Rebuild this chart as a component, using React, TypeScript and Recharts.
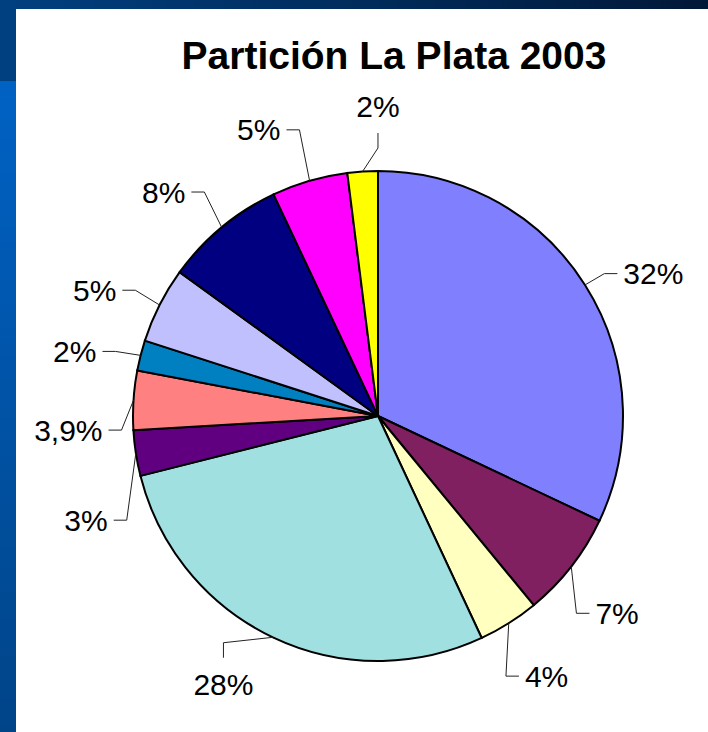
import React from 'react';
import { PieChart, Pie, Cell } from 'recharts';

const sliceLabels = ['32%', '7%', '4%', '28%', '3%', '3,9%', '2%', '5%', '8%', '5%', '2%'];
const sliceValues = [32, 7, 4, 28, 3, 3.9, 2, 5, 8, 5, 2];
const sliceColors = [
  '#8080FF', '#802060', '#FFFFC0', '#A0E0E0', '#600080', '#FF8080',
  '#0080C0', '#C0C0FF', '#000080', '#FF00FF', '#FFFF00',
];

// label layout: angular nudge (deg, clockwise) and which way the leader leaves the label
const labelNudge = [5, 1.6, -0.7, 4.5, -10.9, -6.3, -2.3, -3, -4.1, -6.4, 3.6];
const leaderDir = ['h', 'h', 'h', 'v', 'h', 'h', 'h', 'h', 'h', 'h', 'v'];

const data = sliceValues.map((value, i) => ({ name: sliceLabels[i], value }));

const RAD = Math.PI / 180;
const LABEL_FONT = 30;
const FONT = '"Liberation Sans", Arial, sans-serif';
const glyphW: Record<string, number> = { '%': 0.889, ',': 0.278 };
const textWidth = (s: string) =>
  s.split('').reduce((w, ch) => w + (glyphW[ch] ?? 0.556), 0) * LABEL_FONT;

function renderLabel(props: any) {
  const { cx, cy, midAngle, outerRadius, index } = props;
  const edgeX = cx + outerRadius * Math.cos(-midAngle * RAD);
  const edgeY = cy + outerRadius * Math.sin(-midAngle * RAD);
  const a = midAngle - labelNudge[index];
  const r = outerRadius + 65;
  const tx = cx + r * Math.cos(-a * RAD);
  const ty = cy + r * Math.sin(-a * RAD);
  const label = sliceLabels[index];
  const half = textWidth(label) / 2;

  let pts: string;
  if (leaderDir[index] === 'h') {
    const side = tx > edgeX ? -1 : 1;
    const x0 = tx + side * (half + 6);
    const x1 = x0 + side * 13;
    pts = `${x0},${ty} ${x1},${ty} ${edgeX},${edgeY}`;
  } else {
    const side = ty > edgeY ? -1 : 1;
    const y0 = ty + side * 27;
    const y1 = y0 + side * 15;
    pts = `${tx},${y0} ${tx},${y1} ${edgeX},${edgeY}`;
  }

  return (
    <g key={`lbl-${index}`}>
      <polyline points={pts} fill="none" stroke="#222" strokeWidth={1} />
      <text
        x={tx}
        y={ty}
        dy="0.35em"
        textAnchor="middle"
        fontSize={LABEL_FONT}
        fontFamily={FONT}
        fill="#000"
      >
        {label}
      </text>
    </g>
  );
}

export default function App() {
  return (
    <div style={{ position: 'absolute', left: 0, top: 0, width: 708, height: 732, overflow: 'hidden', background: '#fff' }}>
      {/* slide frame */}
      <div style={{ position: 'absolute', left: 0, top: 0, width: 708, height: 9, background: 'linear-gradient(to right, #004080, #001838)' }} />
      <div style={{ position: 'absolute', left: 0, top: 0, width: 16, height: 81, background: '#004080' }} />
      <div style={{ position: 'absolute', left: 0, top: 81, width: 16, height: 651, background: 'linear-gradient(to bottom, #0062C4, #004488)' }} />

      <svg width={708} height={732} style={{ position: 'absolute', left: 0, top: 0 }}>
        <text x={394} y={69} textAnchor="middle" fontSize={39} fontWeight="bold" fontFamily={FONT} fill="#000">
          Partición La Plata 2003
        </text>
      </svg>

      <div style={{ position: 'absolute', left: 0, top: 0 }}>
        <PieChart width={708} height={732} margin={{ top: 0, right: 0, bottom: 0, left: 0 }}>
          <Pie
            data={data}
            dataKey="value"
            cx={378}
            cy={416}
            outerRadius={245}
            startAngle={90}
            endAngle={-270}
            stroke="#000"
            strokeWidth={2}
            label={renderLabel}
            labelLine={false}
            isAnimationActive={false}
          >
            {data.map((d, i) => (
              <Cell key={i} fill={sliceColors[i]} />
            ))}
          </Pie>
        </PieChart>
      </div>
    </div>
  );
}
